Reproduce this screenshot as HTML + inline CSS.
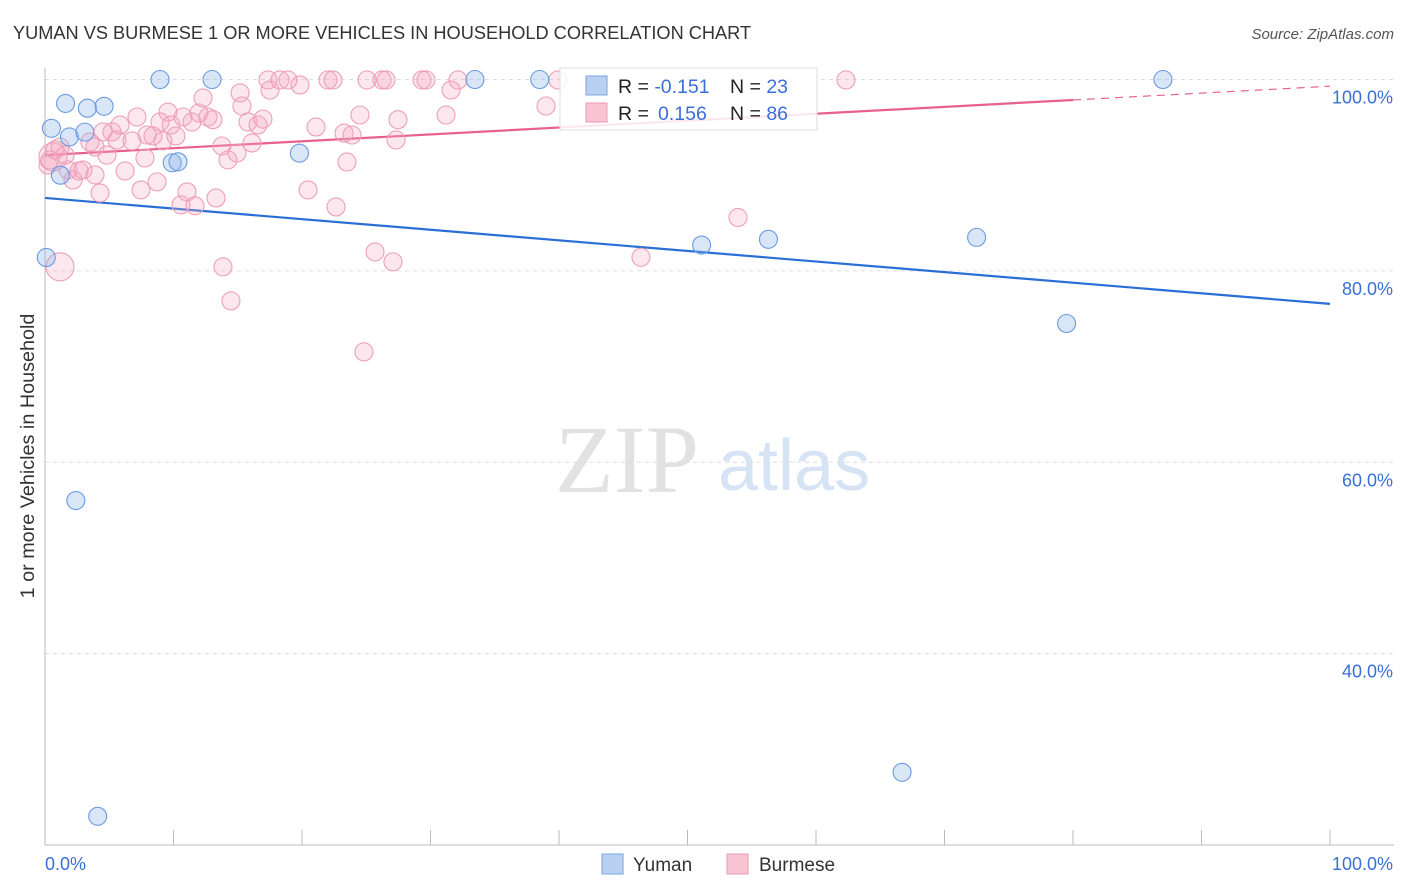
<!DOCTYPE html>
<html><head><meta charset="utf-8"><style>
body{margin:0;background:#fff;font-family:"Liberation Sans",sans-serif}
svg{display:block}
</style></head><body>
<svg id="chart" width="1406" height="892">
<text x="13" y="39" font-size="18.2" fill="#333">YUMAN VS BURMESE 1 OR MORE VEHICLES IN HOUSEHOLD CORRELATION CHART</text>
<text x="1394" y="39" font-size="15" fill="#555" font-style="italic" text-anchor="end">Source: ZipAtlas.com</text>
<text x="0" y="0" transform="translate(34,456) rotate(-90)" font-size="19.8" fill="#333" text-anchor="middle">1 or more Vehicles in Household</text>
<g><text x="555" y="492" font-size="96" font-family="Liberation Serif,serif" fill="#e2e2e2">ZIP</text><text x="718" y="490" font-size="72" fill="#d6e3f5">atlas</text></g>
<g id="grid"></g><g id="ticks"></g><g id="lines"></g><g id="pts"></g>
<g>
<rect x="560" y="68" width="257" height="62" fill="#fff" fill-opacity="0.85" stroke="#ddd"/>
<rect x="586" y="76" width="21" height="19" fill="#b9d0f2" stroke="#7aa3e0"/>
<rect x="586" y="103" width="21" height="19" fill="#f8c3d3" stroke="#ec9ab4"/>
<text x="618" y="93" font-size="19.5" fill="#222">R = <tspan fill="#3a6fd8">-0.151</tspan></text>
<text x="730" y="93" font-size="19.5" fill="#222">N = <tspan fill="#3a6fd8">23</tspan></text>
<text x="618" y="120" font-size="19.5" fill="#222">R = <tspan fill="#3a6fd8" x="658">0.156</tspan></text>
<text x="730" y="120" font-size="19.5" fill="#222">N = <tspan fill="#3a6fd8">86</tspan></text>
</g>
<g>
<rect x="602" y="854" width="21" height="20" fill="#b9d0f2" stroke="#7aa3e0"/>
<text x="633" y="871" font-size="19" fill="#333">Yuman</text>
<rect x="727" y="854" width="21" height="20" fill="#f8c3d3" stroke="#ec9ab4"/>
<text x="759" y="871" font-size="19" fill="#333">Burmese</text>
</g>
</svg>
<script>
const yumanX=[8.95,13.0,33.46,38.5,87.0,1.6,3.3,4.6,0.5,1.9,3.1,1.2,9.9,10.35,19.8,0.1,51.1,56.3,72.5,79.5,2.4,66.7,4.1];
const yumanY=[100,100,100,100,100,97.5,97.0,97.2,94.9,94.0,94.5,90.0,91.3,91.4,92.3,81.4,82.7,83.3,83.5,74.5,56.0,27.6,23.0];
const burmeseX=[0.62,1.17,1.17,1.79,2.18,2.65,2.96,3.5,3.89,4.28,4.51,4.82,5.21,5.6,6.23,6.77,7.16,7.47,7.78,7.94,8.4,8.72,8.95,9.18,9.57,9.81,10.19,10.58,10.74,11.05,11.44,11.67,11.98,12.3,12.68,13.07,13.31,13.77,13.85,14.24,14.47,14.94,15.18,15.33,15.8,16.11,16.58,16.96,17.35,17.51,18.29,18.91,19.84,20.47,21.09,22.02,22.41,22.65,23.27,23.5,23.89,24.51,24.82,25.06,25.68,26.23,26.54,27.08,27.32,27.47,29.34,29.65,31.21,31.6,32.14,38.99,39.92,46.38,53.93,62.33,0.23,0.78,1.56,5.84,3.89,0.39];
const burmeseY=[91.9,92.95,80.42,90.55,89.5,90.44,90.55,93.47,92.95,88.15,94.52,92.1,94.52,93.68,90.44,93.58,96.08,88.46,91.8,94.2,94.1,89.3,95.56,93.58,96.6,95.25,94.1,86.9,96.08,88.25,95.56,86.8,96.5,98.07,96.08,95.8,87.62,93.05,80.42,91.6,76.87,92.32,98.6,97.23,95.56,93.37,95.25,95.87,99.95,98.9,99.95,99.95,99.43,88.46,95.04,99.95,99.95,86.68,94.4,91.38,94.2,96.29,71.54,99.95,81.98,99.95,99.95,80.94,93.68,95.8,99.95,99.95,96.29,98.9,99.95,97.23,99.95,81.42,85.58,99.95,91.07,92.64,92.1,95.25,90.03,91.6];
const yTicks=[100,80,60,40];
const yTickLabels=["100.0%","80.0%","60.0%","40.0%"];
const xTicks=[0,10,20,30,40,50,60,70,80,90,100];
const yumanTrend=[87.62,76.55];
const burmeseTrend=[92.1,99.3];
const burmeseSolidEnd=80;
const NS="http://www.w3.org/2000/svg";
const X0=45,X1=1330,Y0=845,Y1=79.5,YMIN=20,YMAX=100;
const sx=v=>X0+(X1-X0)*v/100;
const sy=v=>Y0-(Y0-Y1)*(v-YMIN)/(YMAX-YMIN);
function mk(tag,attrs,parent){const e=document.createElementNS(NS,tag);for(const k in attrs)e.setAttribute(k,attrs[k]);parent.appendChild(e);return e;}
const grid=document.getElementById('grid'),ticks=document.getElementById('ticks'),lines=document.getElementById('lines'),pts=document.getElementById('pts');
yTicks.forEach((t,i)=>{
 const l=mk('line',{x1:X0,x2:1394,y1:sy(t),y2:sy(t),stroke:'#ddd','stroke-dasharray':'4 4'},grid);
 
 
 const tx=mk('text',{x:1393,y:sy(t)+24,'font-size':18,fill:'#3a6fd8','text-anchor':'end'},grid);
 tx.textContent=yTickLabels[i];
 
 
});
const ax=mk('line',{x1:X0,x2:X0,y1:68,y2:Y0,stroke:'#bbb'},ticks);


const bx=mk('line',{x1:X0,x2:1394,y1:Y0,y2:Y0,stroke:'#bbb'},ticks);


xTicks.forEach(t=>{
 const l=mk('line',{x1:sx(t),x2:sx(t),y1:830,y2:Y0,stroke:'#bbb'},ticks);
 
 
});
const xl0=mk('text',{x:45,y:870,'font-size':18,fill:'#3a6fd8'},ticks);xl0.textContent='0.0%';


const xl1=mk('text',{x:1393,y:870,'font-size':18,fill:'#3a6fd8','text-anchor':'end'},ticks);xl1.textContent='100.0%';


function dot(x,y,r,fill,stroke,name){const c=mk('circle',{cx:sx(x),cy:sy(y),r:r,fill:fill,stroke:stroke,'stroke-width':1.1},pts);
 
 }
burmeseX.forEach((x,i)=>dot(x,burmeseY[i],(i===0||i===2)?14:9,'rgba(246,170,195,0.28)','#ee9fb8','burmese-point'));
yumanX.forEach((x,i)=>dot(x,yumanY[i],9,'rgba(140,180,235,0.33)','#6a9be0','yuman-point'));
const bt=mk('line',{x1:sx(0),y1:sy(yumanTrend[0]),x2:sx(100),y2:sy(yumanTrend[1]),stroke:'#2a6fd6','stroke-width':2.2},lines);


const pe=burmeseTrend[0]+(burmeseTrend[1]-burmeseTrend[0])*burmeseSolidEnd/100;
const pt=mk('line',{x1:sx(0),y1:sy(burmeseTrend[0]),x2:sx(burmeseSolidEnd),y2:sy(pe),stroke:'#e8608c','stroke-width':2.2},lines);


const pd=mk('line',{x1:sx(burmeseSolidEnd),y1:sy(pe),x2:sx(100),y2:sy(burmeseTrend[1]),stroke:'#e8608c','stroke-width':1.2,'stroke-dasharray':'8 6'},lines);


</script>
</body></html>
